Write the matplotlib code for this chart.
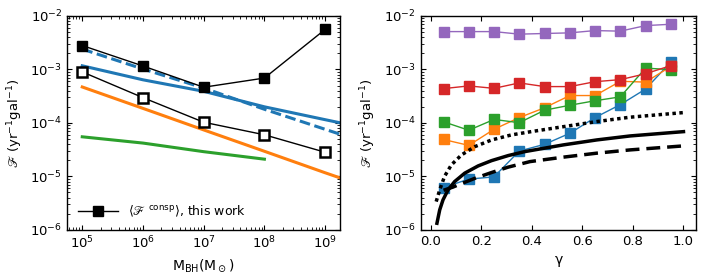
import matplotlib
matplotlib.use("Agg")
import matplotlib.pyplot as plt
from matplotlib.lines import Line2D

# ---- left panel: rate vs black hole mass
mbh = [1e5, 1e6, 1e7, 1e8, 1e9]
consp_this_work = [2.8e-3, 1.16e-3, 4.65e-4, 6.9e-4, 5.6e-3]
consp_open = [9.0e-4, 2.97e-4, 1.03e-4, 6.0e-5, 2.83e-5]

m_blue = [1e5, 1e6, 1e7, 1e8, 1e9, 1.8e9]
blue_solid = [1.17e-3, 6.4e-4, 3.9e-4, 2.0e-4, 1.15e-4, 1.0e-4]
blue_dashed = [2.4e-3, 1.02e-3, 4.5e-4, 1.8e-4, 7.6e-5, 6.1e-5]

m_orange = [1e5, 1e6, 1e7, 1e8, 1e9, 1.8e9]
orange = [4.7e-4, 1.87e-4, 7.4e-5, 2.95e-5, 1.17e-5, 9.3e-6]

m_green = [1e5, 1e6, 1e7, 1e8]
green = [5.5e-5, 4.2e-5, 2.9e-5, 2.1e-5]

# ---- right panel: rate vs gamma
gamma = [0.05, 0.15, 0.25, 0.35, 0.45, 0.55, 0.65, 0.75, 0.85, 0.95]
purple = [5.1e-3, 5.1e-3, 5.1e-3, 4.57e-3, 4.7e-3, 4.83e-3, 5.33e-3, 5.2e-3, 6.6e-3, 7.0e-3]
red = [4.38e-4, 4.92e-4, 4.43e-4, 5.6e-4, 4.78e-4, 4.78e-4, 5.9e-4, 6.45e-4, 8.3e-4, 1.18e-3]
green_g = [1.05e-4, 7.3e-5, 1.16e-4, 1.01e-4, 1.73e-4, 2.14e-4, 2.6e-4, 3.07e-4, 1.06e-3, 9.9e-4]
orange_g = [4.9e-5, 3.8e-5, 7.6e-5, 1.26e-4, 1.92e-4, 3.25e-4, 3.25e-4, 6.0e-4, 5.8e-4, 1.14e-3]
blue_g = [6.2e-6, 8.9e-6, 9.8e-6, 2.98e-5, 3.98e-5, 6.4e-5, 1.26e-4, 2.2e-4, 4.3e-4, 1.38e-3]

g_solid = [0.024, 0.035, 0.048, 0.068, 0.094, 0.134, 0.187, 0.24, 0.306, 0.372, 0.524, 0.657, 0.789, 1.0]
f_solid = [1.33e-6, 2.37e-6, 3.64e-6, 5.6e-6, 8.0e-6, 1.15e-5, 1.57e-5, 1.97e-5, 2.45e-5,
           2.91e-5, 3.88e-5, 4.81e-5, 5.71e-5, 6.87e-5]
g_dotted = [0.021, 0.035, 0.054, 0.081, 0.121, 0.174, 0.24, 0.319, 0.399, 0.524, 0.657, 0.789, 1.0]
f_dotted = [3.38e-6, 5.6e-6, 1.0e-5, 1.64e-5, 2.52e-5, 3.6e-5, 4.8e-5, 5.97e-5, 6.9e-5,
            8.5e-5, 1.06e-4, 1.28e-4, 1.56e-4]
g_dashed = [0.05, 0.087, 0.107, 0.174, 0.24, 0.306, 0.392, 0.524, 0.657, 0.789, 1.0]
f_dashed = [5.5e-6, 6.3e-6, 6.9e-6, 9.2e-6, 1.18e-5, 1.49e-5, 1.89e-5, 2.29e-5, 2.72e-5,
            3.13e-5, 3.72e-5]

C_BLUE, C_ORANGE, C_GREEN, C_RED, C_PURPLE = "#1f77b4", "#ff7f0e", "#2ca02c", "#d62728", "#9467bd"
YLAB = r"$\mathscr{F}$ (yr$^{-1}$gal$^{-1}$)"

plt.rcParams.update({"font.size": 9.5, "axes.linewidth": 1.0,
                     "xtick.direction": "in", "ytick.direction": "in",
                     "xtick.top": True, "ytick.right": True})

fig = plt.figure(figsize=(7.06, 2.8), dpi=100)
ax1 = fig.add_axes([0.095, 0.179, 0.387, 0.764])
ax2 = fig.add_axes([0.596, 0.179, 0.390, 0.764])

ax1.plot(m_blue, blue_solid, color=C_BLUE, lw=2.2)
ax1.plot(m_blue, blue_dashed, color=C_BLUE, lw=2.2, ls=(0, (3.5, 1.5)))
ax1.plot(m_orange, orange, color=C_ORANGE, lw=2.2)
ax1.plot(m_green, green, color=C_GREEN, lw=2.2)
ax1.plot(mbh, consp_this_work, "k-s", lw=1, ms=7.5)
ax1.plot(mbh, consp_open, "k-s", lw=1, ms=6.5, mfc="white", mew=1.8)
ax1.set_xscale("log")
ax1.set_yscale("log")
ax1.set_xlim(10**4.75, 10**9.25)
ax1.set_ylim(1e-6, 1e-2)
ax1.set_xlabel(r"M$_{\rm BH}$(M$_\odot$)", fontsize=10)
ax1.set_ylabel(YLAB, fontsize=9.5)
handle = Line2D([], [], color="k", marker="s", lw=1, ms=7.5)
ax1.legend([handle], [r"$\langle\mathscr{F}^{\rm\ consp}\rangle$, this work"],
           loc="lower left", frameon=False, handlelength=3.2, fontsize=9)

for vals, c in [(blue_g, C_BLUE), (orange_g, C_ORANGE), (green_g, C_GREEN),
                (red, C_RED), (purple, C_PURPLE)]:
    ax2.plot(gamma, vals, "-s", color=c, lw=1, ms=7.5)
ax2.plot(g_solid, f_solid, "k-", lw=2.5)
ax2.plot(g_dotted, f_dotted, "k", lw=2.5, ls=(0, (1, 1)))
ax2.plot(g_dashed, f_dashed, "k", lw=2.5, ls=(0, (4, 2)))
ax2.set_yscale("log")
ax2.set_ylim(1e-6, 1e-2)
ax2.set_xlim(-0.04, 1.05)
ax2.set_xlabel("γ", fontsize=10)
ax2.set_ylabel(YLAB, fontsize=9.5)

fig.savefig("out.png", dpi=100)
